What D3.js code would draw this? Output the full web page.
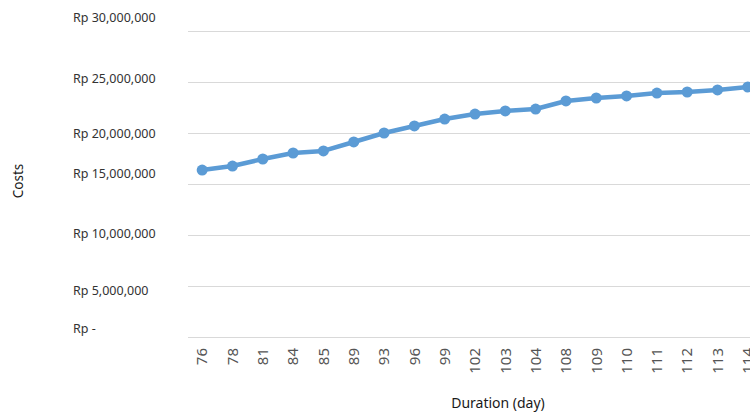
<!DOCTYPE html>
<html><head><meta charset="utf-8">
<script src="https://cdn.jsdelivr.net/npm/d3@7"></script>
<style>body{margin:0;background:#fff;overflow:hidden}svg{display:block;font-family:"Noto Sans",sans-serif}</style>
</head><body>
<svg id="c" width="750" height="414"></svg>
<script>
const durations = ["76","78","81","84","85","89","93","96","99","102","103","104","108","109","110","111","112","113","114"];
const costs = [16370000,16760000,17450000,18040000,18240000,19120000,20000000,20690000,21370000,21860000,22160000,22350000,23140000,23430000,23630000,23920000,24020000,24220000,24510000];
const yTicks = [0,5000000,10000000,15000000,20000000,25000000,30000000];
const yTickLabels = ["Rp -","Rp 5,000,000","Rp 10,000,000","Rp 15,000,000","Rp 20,000,000","Rp 25,000,000","Rp 30,000,000"];
// layout nudges of the y tick labels (as in the source picture)
const yLabelNudge = [-9,4,-2,-11,0,-4,-14];

const svg = d3.select("#c");
const x = d3.scaleBand().domain(durations).range([187, 763]);
const y = d3.scaleLinear().domain([0, 30000000]).range([337, 31]);

// gridlines
svg.append("g").selectAll("line").data(yTicks).join("line")
  .attr("x1",188).attr("x2",750)
  .attr("y1",d=>Math.round(y(d))+0.5).attr("y2",d=>Math.round(y(d))+0.5)
  .attr("stroke","#d9d9d9").attr("stroke-width",1);

// y axis labels
const yAxis = d3.axisLeft(y).tickValues(yTicks).tickSize(0).tickFormat((d,i)=>yTickLabels[i]);
const gy = svg.append("g").attr("transform","translate(73,0)").call(yAxis);
gy.select(".domain").remove();
gy.selectAll("text").attr("text-anchor","start").attr("x",0)
  .attr("dy",(d,i)=>(yLabelNudge[i]+4.5)+"px")
  .attr("fill","#333333").style("font-size","12.5px").style("font-family","'Noto Sans',sans-serif");

// x axis labels
const xAxis = d3.axisBottom(x).tickSize(0);
const gx = svg.append("g").attr("transform","translate(0,337)").call(xAxis);
gx.select(".domain").remove();
gx.selectAll("text").attr("transform","rotate(-90)").attr("text-anchor","end")
  .attr("x",-11).attr("y",0).attr("dy","0.35em")
  .attr("fill","#555555").style("font-size","15px").style("font-family","'Noto Sans',sans-serif");

// line
const cx = d => x(d) + x.bandwidth()/2;
svg.append("path").datum(costs)
  .attr("d", d3.line().x((d,i)=>cx(durations[i])).y(d=>y(d)))
  .attr("fill","none").attr("stroke","#5b9bd5").attr("stroke-width",4.5).attr("stroke-linejoin","round");
svg.append("g").selectAll("circle").data(costs).join("circle")
  .attr("cx",(d,i)=>cx(durations[i])).attr("cy",d=>y(d)).attr("r",5.5)
  .attr("fill","#5b9bd5");

// titles
svg.append("text").attr("transform","translate(23,181) rotate(-90)").attr("text-anchor","middle")
  .attr("fill","#1a1a1a").style("font-size","13.5px").text("Costs");
svg.append("text").attr("x",498).attr("y",408).attr("text-anchor","middle")
  .attr("fill","#1a1a1a").style("font-size","14px").text("Duration (day)");
</script>
</body></html>
